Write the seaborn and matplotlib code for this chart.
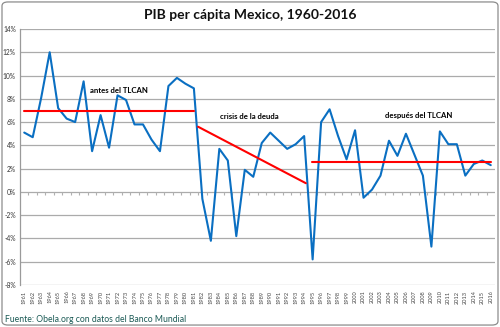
import matplotlib
matplotlib.use("Agg")
import matplotlib.pyplot as plt
import seaborn as sns
import pandas as pd
import numpy as np
from matplotlib.patches import FancyBboxPatch
from matplotlib.ticker import FuncFormatter

years = list(range(1961, 2017))
growth = [5.1, 4.7, 8.1, 12.0, 7.2, 6.3, 6.0, 9.5, 3.5, 6.6,
          3.8, 8.3, 7.9, 5.8, 5.8, 4.5, 3.5, 9.1, 9.8, 9.3,
          8.9, -0.6, -4.2, 3.7, 2.7, -3.8, 1.9, 1.3, 4.2, 5.1,
          4.4, 3.7, 4.1, 4.8, -5.8, 6.0, 7.1, 4.8, 2.8, 5.3,
          -0.5, 0.2, 1.4, 4.4, 3.1, 5.0, 3.2, 1.4, -4.7, 5.2,
          4.1, 4.1, 1.4, 2.4, 2.7, 2.3]

antes_x = [1961, 1981]
antes_y = [6.95, 6.95]
crisis_x = [1981.5, 1994.2]
crisis_y = [5.6, 0.75]
despues_x = [1994.9, 2016]
despues_y = [2.55, 2.55]

labels = ["antes del TLCAN", "crisis de la deuda", "después del TLCAN"]
label_x = [1972.2, 1987.5, 2007.5]
label_y = [8.7, 6.5, 6.6]

yticks = list(range(-8, 15, 2))

sns.set_theme(style="white")
plt.rcParams['font.family'] = ['Lato', 'DejaVu Sans']

fig = plt.figure(figsize=(5.0, 3.27), dpi=100)
ax = fig.add_axes([0.04, 0.1284, 0.95, 0.7829])

df = pd.DataFrame({"year": years, "growth": growth})
for yv in yticks:
    ax.axhline(yv, color="#ABABAB", lw=0.9, zorder=0)

sns.lineplot(data=df, x="year", y="growth", ax=ax, color="#0A6FC2", lw=1.5, zorder=3)
sns.lineplot(x=antes_x, y=antes_y, ax=ax, color="#FF0000", lw=1.5, zorder=4)
sns.lineplot(x=crisis_x, y=crisis_y, ax=ax, color="#FF0000", lw=1.5, zorder=4)
sns.lineplot(x=despues_x, y=despues_y, ax=ax, color="#FF0000", lw=1.5, zorder=4)

for t, xx, yy in zip(labels, label_x, label_y):
    ax.text(xx, yy, t, fontsize=5.6, fontweight="bold", ha="center", va="center", color="black", zorder=5)

ax.set_xlim(1960.5, 2016.5)
ax.set_ylim(-8, 14)
ax.set_yticks(yticks)
ax.yaxis.set_major_formatter(FuncFormatter(lambda v, p: f"{int(v)}%"))
ax.set_xticks(years)
ax.set_xticklabels([str(y) for y in years], rotation=90, fontsize=4.1, color="#444444")
ax.tick_params(axis="y", labelsize=4.8, labelcolor="#333333", length=0, pad=3)
ax.tick_params(axis="x", length=0, pad=4)
ax.set_xlabel("")
ax.set_ylabel("")
for s in ["top", "right", "bottom"]:
    ax.spines[s].set_visible(False)
ax.spines["left"].set_color("#9A9A9A")
ax.spines["left"].set_linewidth(0.9)

sec = ax.secondary_xaxis(8 / 22)
sec.set_xticks([y + 0.5 for y in years[:-1]])
sec.set_xticklabels([])
sec.tick_params(axis="x", direction="out", length=2.5, color="#B0B0B0", width=0.8)
sec.spines["bottom"].set_visible(False)
sec.spines["top"].set_visible(False)

fig.text(0.5, 0.955, "PIB per cápita Mexico, 1960-2016", ha="center", va="center",
         fontsize=10, fontweight="bold", color="#111111")
fig.text(0.01, 0.024, "Fuente: Obela.org con datos del Banco Mundial", ha="left", va="center",
         fontsize=6.2, color="#1B5A55")

border = FancyBboxPatch((0.004, 0.006), 0.992, 0.988, boxstyle="round,pad=0,rounding_size=0.012",
                        transform=fig.transFigure, fill=False, edgecolor="#8C8C8C", lw=0.9)
fig.patches.append(border)

fig.savefig("out.png", dpi=100)
